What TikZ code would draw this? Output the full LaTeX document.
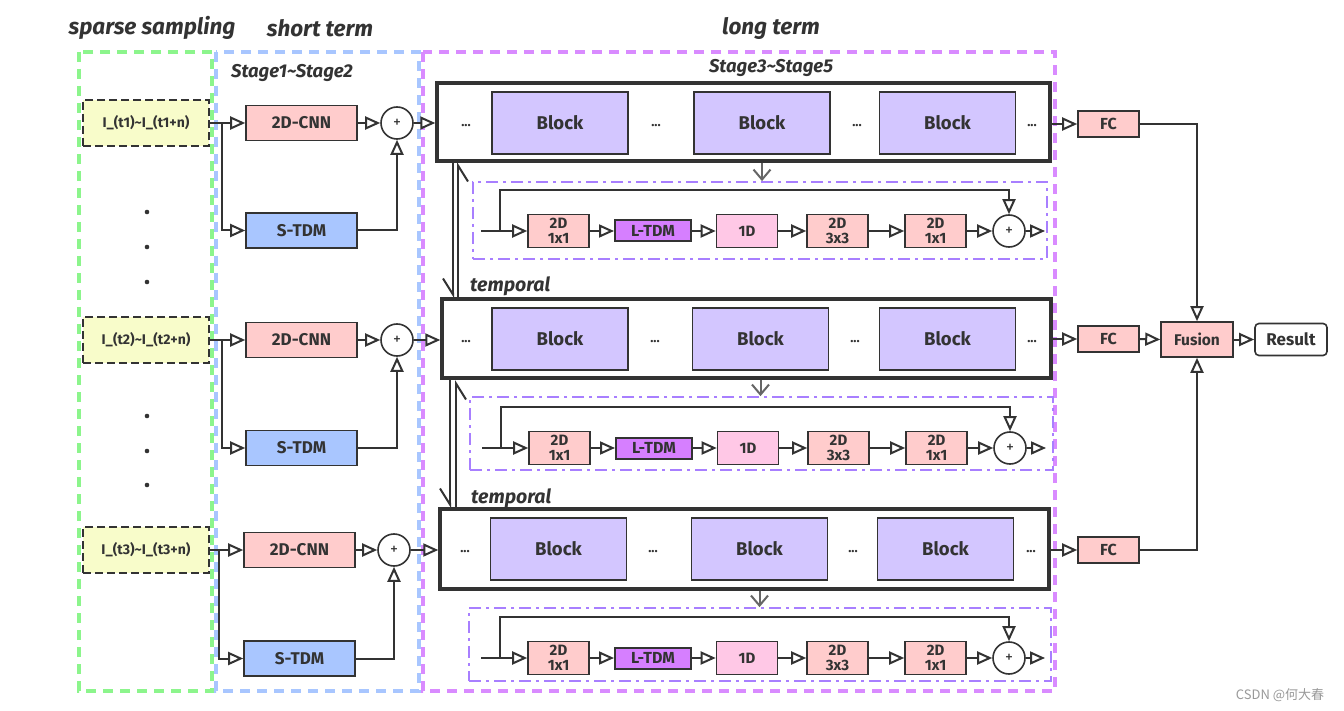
\documentclass[tikz,border=0pt]{standalone}
\usepackage{fontspec}
\setmainfont{Fira Sans}
\newfontfamily\cjkfont{Noto Sans CJK SC}
\usetikzlibrary{arrows.meta,calc}
\definecolor{ink}{HTML}{333333}
\definecolor{cnnpink}{HTML}{FFCCCC}
\definecolor{stdmblue}{HTML}{A9C6FF}
\definecolor{yellowbg}{HTML}{F8FCCA}
\definecolor{blockpurple}{HTML}{D3C6FF}
\definecolor{ltdmviolet}{HTML}{D67FFF}
\definecolor{onedpink}{HTML}{FFC8E6}
\definecolor{greendash}{HTML}{8CF58C}
\definecolor{bluedash}{HTML}{A8C6FF}
\definecolor{purpledash}{HTML}{D98BFF}
\definecolor{ddcol}{HTML}{A87FFF}
\definecolor{garrowcol}{HTML}{666666}
\tikzset{
  box/.style={draw=ink, line width=1.6pt, inner sep=0pt, text=ink, font=\bfseries\fontsize{17}{19}\selectfont},
  cnn/.style={box, fill=cnnpink, minimum width=111pt, minimum height=35pt},
  stdm/.style={box, fill=stdmblue, minimum width=111pt, minimum height=35pt},
  inbox/.style={draw=ink, dash pattern=on 8pt off 4pt, line width=2pt, fill=yellowbg, inner sep=0pt, minimum width=126pt, minimum height=46pt, text=ink, font=\bfseries\fontsize{14}{15}\selectfont},
  plus/.style={circle, draw=ink, line width=1.6pt, fill=white, minimum size=32pt, inner sep=0pt, text=ink, font=\fontsize{16}{17}\selectfont},
  stage/.style={draw=ink, line width=3.5pt, fill=white, inner sep=0pt},
  blk/.style={box, fill=blockpurple, minimum width=136pt, minimum height=62pt, font=\bfseries\fontsize{18.5}{20}\selectfont},
  dots/.style={inner sep=0pt, text=ink, font=\bfseries\fontsize{13}{14}\selectfont},
  small/.style={box, fill=cnnpink, minimum width=61pt, minimum height=33pt, align=center, font=\bfseries\fontsize{15}{14.5}\selectfont},
  oned/.style={small, fill=onedpink},
  ltdm/.style={box, line width=2pt, fill=ltdmviolet, minimum width=76pt, minimum height=21pt, font=\bfseries\fontsize{16}{17}\selectfont},
  fcbox/.style={box, fill=cnnpink, minimum width=61pt, minimum height=26pt, font=\bfseries\fontsize{16}{17}\selectfont},
  ddbox/.style={draw=ddcol, line width=1.8pt, dash pattern=on 12pt off 5pt on 3pt off 5pt, inner sep=0pt},
  conn/.style={draw=ink, line width=2pt, -{Triangle[length=15pt,width=13pt,fill=white]}},
  garrow/.style={draw=garrowcol, line width=2pt, -{Straight Barb[length=10pt,width=17pt]}},
  harp/.style={draw=ink, line width=2pt, -{Straight Barb[right,length=16pt,width=20pt]}},
  title/.style={inner sep=0pt, text=ink, font=\bfseries\itshape\fontsize{22.5}{26}\selectfont},
  sublabel/.style={inner sep=0pt, text=ink, font=\bfseries\itshape\fontsize{18.5}{21}\selectfont},
  region/.style={line width=3.5pt, dash pattern=on 10pt off 7pt},
}
\begin{document}
\begin{tikzpicture}[x=1pt,y=-1pt]
\useasboundingbox (0,0) rectangle (1344,711);
\fill[white] (0,0) rectangle (1344,711);

% regions
\draw[region, greendash] (79,52) rectangle (212,691);
\draw[region, bluedash] (216,52) rectangle (419,691);
\draw[region, purpledash] (423,52) rectangle (1055,691);

% titles
\node[title] (t1) at (152,28) {sparse sampling};
\node[title] (t2) at (320,28) {short term};
\node[title] (t3) at (771,28) {long term};
\node[sublabel] (s12) at (292,73) {Stage1\char`~Stage2};
\node[sublabel] (s35) at (771,68) {Stage3\char`~Stage5};
\node[sublabel, anchor=west, font=\bfseries\itshape\fontsize{19.5}{22}\selectfont] (tp1) at (470,286) {temporal};
\node[sublabel, anchor=west, font=\bfseries\itshape\fontsize{19.5}{22}\selectfont] (tp2) at (471,498) {temporal};

% sampling dots
\foreach \yy in {212,247,282,416,451,485}{
  \fill[ink] (147,\yy) circle (2.3);
}

% inputs
\node[inbox] (in1) at (146,123) {I\_(t1)\char`~I\_(t1+n)};
\node[inbox] (in2) at (146,340) {I\_(t2)\char`~I\_(t2+n)};
\node[inbox] (in3) at (146,550) {I\_(t3)\char`~I\_(t3+n)};

% short term
\node[cnn] (cnn1) at (301.5,123) {2D-CNN};
\node[stdm] (stdm1) at (301.5,230.5) {S-TDM};
\node[plus] (plus1) at (397,123) {+};
\node[cnn] (cnn2) at (301.5,340) {2D-CNN};
\node[stdm] (stdm2) at (301.5,448) {S-TDM};
\node[plus] (plus2) at (397,340) {+};
\node[cnn] (cnn3) at (299.5,550) {2D-CNN};
\node[stdm] (stdm3) at (299.5,658.5) {S-TDM};
\node[plus] (plus3) at (394,550) {+};
\coordinate (b1) at (222,123);
\coordinate (b2) at (222,340);
\coordinate (b3) at (219,550);

% stage boxes
\node[stage, minimum width=613pt, minimum height=78pt] (st1) at (743.5,122) {};
\node[stage, minimum width=609pt, minimum height=79pt] (st2) at (746.5,338.5) {};
\node[stage, minimum width=609pt, minimum height=80pt] (st3) at (744.5,549) {};

\node[blk] (k11) at (560,123) {Block};
\node[blk] (k12) at (762,123) {Block};
\node[blk] (k13) at (947.5,123) {Block};
\node[blk] (k21) at (560,339) {Block};
\node[blk] (k22) at (760.5,339) {Block};
\node[blk] (k23) at (947.5,339) {Block};
\node[blk] (k31) at (558.5,549) {Block};
\node[blk] (k32) at (759.5,549) {Block};
\node[blk] (k33) at (945.5,549) {Block};

\foreach \xx [count=\i] in {466,656,857,1032}{ \node[dots] (da\i) at (\xx,126) {...}; }
\foreach \xx [count=\i] in {466,655,855,1032}{ \node[dots] (db\i) at (\xx,342) {...}; }
\foreach \xx [count=\i] in {465,653,853,1031}{ \node[dots] (dc\i) at (\xx,552) {...}; }

% dash-dot boxes
\node[ddbox, minimum width=574pt, minimum height=77pt] (dd1) at (760,220.5) {};
\node[ddbox, minimum width=583pt, minimum height=73pt] (dd2) at (761.5,433.5) {};
\node[ddbox, minimum width=582pt, minimum height=73pt] (dd3) at (760,644.5) {};

\draw[garrow] (k12.south |- st1.south) -- (k12.south |- dd1.north);
\draw[garrow] (k22.south |- st2.south) -- (k22.south |- dd2.north);
\draw[garrow] (k32.south |- st3.south) -- (k32.south |- dd3.north);

% inner rows
\foreach \r/\cy/\dx in {1/231/0,2/448/1,3/658/0}{
  \begin{scope}[xshift=\dx pt]
    \node[small] (a\r) at (558.5,\cy) {2D\\1x1};
    \node[ltdm] (l\r) at (653,\cy) {L-TDM};
    \node[oned] (o\r) at (747,\cy) {1D};
    \node[small] (c\r) at (837.5,\cy) {2D\\3x3};
    \node[small] (e\r) at (935.5,\cy) {2D\\1x1};
    \node[plus] (p\r) at (1009,\cy) {+};
    \coordinate (s\r) at (481,\cy);
    \coordinate (g\r) at (500,\cy);
    \coordinate (q\r) at (1045,\cy);
  \end{scope}
  \draw[conn] (s\r) -- (a\r);
  \draw[conn] (a\r) -- (l\r);
  \draw[conn] (l\r) -- (o\r);
  \draw[conn] (o\r) -- (c\r);
  \draw[conn] (c\r) -- (e\r);
  \draw[conn] (e\r) -- (p\r);
  \draw[conn] (p\r) -- (q\r);
  \draw[conn] (g\r) -- ++(0,-41) -| (p\r.north);
}

% short-term connectors
\foreach \i in {1,2,3}{
  \draw[conn] (in\i.east) -- (cnn\i.west);
  \draw[conn] (b\i) |- (stdm\i.west);
  \draw[conn] (cnn\i.east) -- (plus\i.west);
  \draw[conn] (stdm\i.east) -| (plus\i.south);
  \draw[conn] (plus\i.east) -- (plus\i.east -| st\i.west);
}

% temporal harpoons
\coordinate (h1a) at (453,162);
\coordinate (h1b) at (453,298);
\coordinate (h1c) at (458,298);
\coordinate (h1d) at (458,162);
\coordinate (h2a) at (450,380);
\coordinate (h2b) at (450,508);
\coordinate (h2c) at (456,508);
\coordinate (h2d) at (456,380);
\draw[harp] (h1a) -- (h1b);
\draw[harp] (h1c) -- (h1d);
\draw[harp] (h2a) -- (h2b);
\draw[harp] (h2c) -- (h2d);

% FC and fusion
\node[fcbox] (fc1) at (1108.5,124) {FC};
\node[fcbox] (fc2) at (1108.5,339) {FC};
\node[fcbox] (fc3) at (1108.5,550) {FC};
\node[box, fill=cnnpink, minimum width=72pt, minimum height=35pt, font=\bfseries\fontsize{15.5}{17}\selectfont] (fus) at (1197,339.5) {Fusion};
\node[box, fill=white, rounded corners=4pt, minimum width=72pt, minimum height=32pt, font=\bfseries\fontsize{17}{19}\selectfont] (res) at (1291,339.5) {Result};

\draw[conn] (st1.east |- fc1.west) -- (fc1.west);
\draw[conn] (st2.east |- fc2.west) -- (fc2.west);
\draw[conn] (st3.east |- fc3.west) -- (fc3.west);
\draw[conn] (fc1.east) -| (fus.north);
\draw[conn] (fc3.east) -| (fus.south);
\draw[conn] (fc2.east) -- (fus.west);
\draw[conn] (fus.east) -- (res.west);

% watermark
\node[inner sep=0pt, text=black!40, font=\cjkfont\fontsize{13}{15}\selectfont] (wm) at (1280,695) {CSDN @何大春};
\end{tikzpicture}
\end{document}
